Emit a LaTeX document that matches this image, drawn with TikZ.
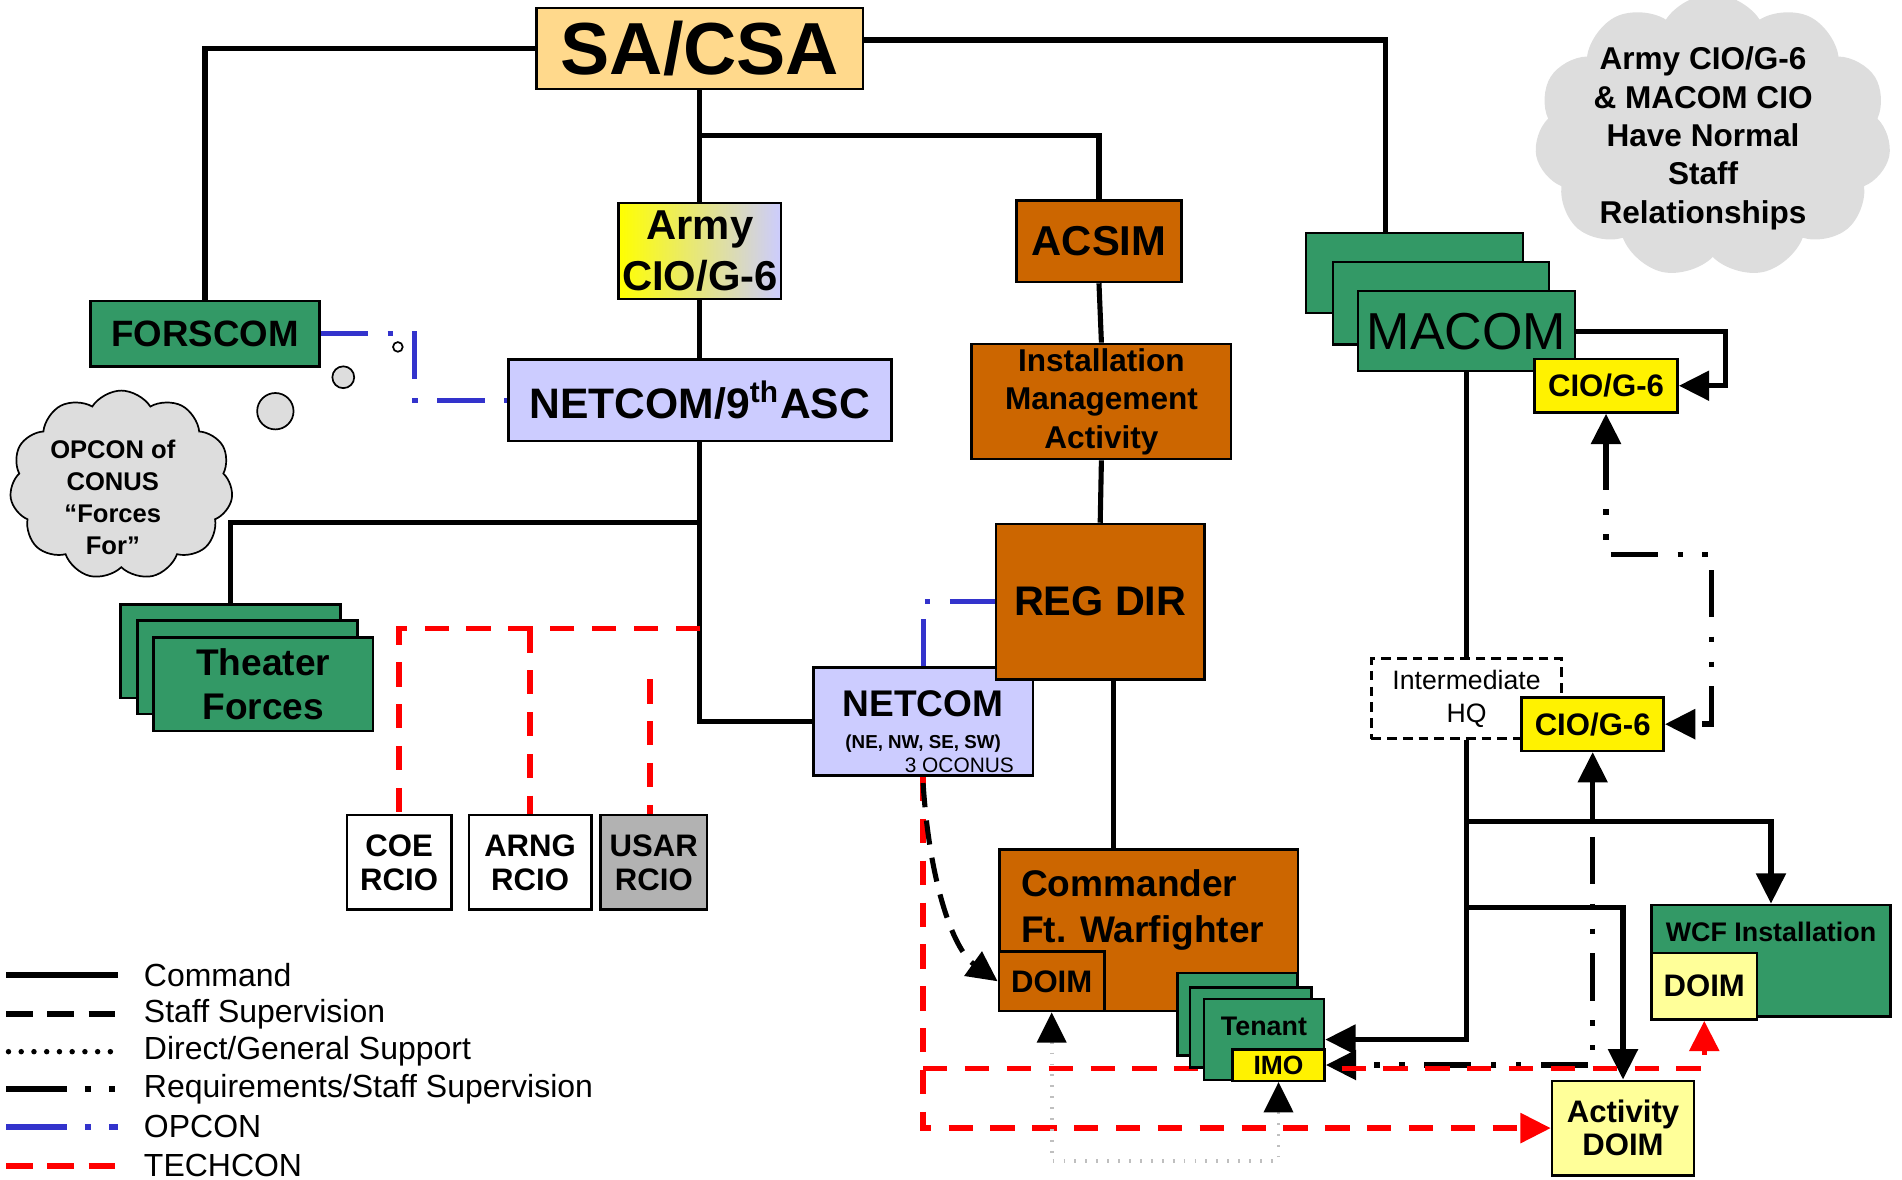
\documentclass[tikz,border=0pt]{standalone}
\usepackage{fontspec}
\setmainfont{Liberation Sans}
\usetikzlibrary{arrows.meta,shapes.symbols,backgrounds}

\definecolor{peach}{RGB}{255,217,140}
\definecolor{armygreen}{RGB}{51,153,102}
\definecolor{rust}{RGB}{204,102,0}
\definecolor{periwinkle}{RGB}{204,204,255}
\definecolor{paleyellow}{RGB}{255,255,153}
\definecolor{cloudgray}{RGB}{221,221,221}
\definecolor{opconblue}{RGB}{51,51,204}
\definecolor{usargray}{RGB}{178,178,178}

\newcommand{\boxfont}[2]{\fontsize{#1}{#2}\selectfont}

\begin{document}
\begin{tikzpicture}[x=0.1mm, y=-0.1mm,
		box/.style={draw, line width=0.6pt, inner sep=0pt, align=center},
		cmd/.style={line width=0.42mm},
		bighead/.style={-{Triangle[length=2.5mm,width=2.4mm]}},
		staffsup/.style={line width=0.42mm, dash pattern=on 2mm off 1.1mm},
		support/.style={line width=0.3mm, black!25, dash pattern=on 0.15mm off 0.75mm},
		reqsup/.style={line width=0.45mm, dash pattern=on 3.9mm off 1.6mm on 0.45mm off 1.6mm on 0.45mm off 1.6mm},
		opcon/.style={line width=0.42mm, opconblue, dash pattern=on 3.9mm off 1.6mm on 0.45mm off 1.6mm},
		techcon/.style={line width=0.45mm, red, dash pattern=on 2mm off 1.45mm}]
		\useasboundingbox (0,0) rectangle (1568,972);
		
		% oberste Ebene
		\node[box, fill=peach, minimum width=26.9mm, minimum height=6.7mm, font=\bfseries\boxfont{17.3}{20}] (sacsa) at (577,40) {SA/CSA};
		\node[box, left color=yellow, right color=periwinkle, minimum width=13.4mm, minimum height=7.9mm, font=\bfseries\boxfont{9.8}{12}] (armycio) at (577,207) {Army\\CIO/G-6};
		\node[box, fill=rust, minimum width=13.6mm, minimum height=6.7mm, font=\bfseries\boxfont{9.8}{11}] (acsim) at (906,199) {ACSIM};
		\node[box, fill=armygreen, minimum width=18.9mm, minimum height=5.4mm, font=\bfseries\boxfont{8.6}{10}] (forscom) at (169,275) {FORSCOM};
		\node[box, fill=periwinkle, minimum width=31.6mm, minimum height=6.7mm, font=\bfseries\boxfont{10}{12}] (netasc) at (577,330) {NETCOM/9\textsuperscript{th}ASC};
		\node[box, fill=rust, minimum width=21.4mm, minimum height=9.5mm, font=\bfseries\boxfont{7.4}{9}] (ima) at (908,331) {Installation\\Management\\Activity};
		
		% Wolken
		\node[cloud, cloud puffs=11, cloud puff arc=115, draw, fill=cloudgray, minimum width=18.4mm, minimum height=15.6mm, inner sep=0pt] (opconcloud) at (100,400) {};
		\node[align=center, inner sep=0pt, font=\bfseries\boxfont{6}{7.5}] (opconlbl) at (93,410) {OPCON of\\CONUS\\“Forces\\For”};
		\node[circle, draw, fill=cloudgray, minimum size=3mm, inner sep=0pt] (bubble1) at (227,339) {};
		\node[circle, draw, fill=cloudgray, minimum size=1.8mm, inner sep=0pt] (bubble2) at (283,311) {};
		\node[circle, draw, fill=white, minimum size=0.8mm, inner sep=0pt] (bubble3) at (328,286) {};
		\node[cloud, cloud puffs=11, cloud puff arc=115, fill=cloudgray, minimum width=29.4mm, minimum height=23.4mm, inner sep=0pt] (staffcloud) at (1412,112) {};
		\node[align=center, inner sep=0pt, font=\bfseries\boxfont{7.4}{9}] (stafflbl) at (1404,114) {Army CIO/G-6\\\& MACOM CIO\\Have Normal\\Staff\\Relationships};
		
		% Theater Forces
		\node[box, fill=armygreen, minimum width=18.1mm, minimum height=7.7mm] (theater3) at (190,537) {};
		\node[box, fill=armygreen, minimum width=18.1mm, minimum height=7.7mm] (theater2) at (204,550) {};
		\node[box, fill=armygreen, minimum width=18.1mm, minimum height=7.7mm, font=\bfseries\boxfont{8.7}{10.2}] (theater) at (217,564) {Theater\\Forces};
		
		% RCIOs
		\node[box, fill=white, minimum width=8.6mm, minimum height=7.8mm, font=\bfseries\boxfont{7.3}{8}] (coe) at (329,711) {COE\\RCIO};
		\node[box, fill=white, minimum width=10.1mm, minimum height=7.8mm, font=\bfseries\boxfont{7.3}{8}] (arng) at (437,711) {ARNG\\RCIO};
		\node[box, fill=usargray, minimum width=8.8mm, minimum height=7.8mm, font=\bfseries\boxfont{7.3}{8}] (usar) at (539,711) {USAR\\RCIO};
		
		% NETCOM und REG DIR
		\node[box, fill=periwinkle, minimum width=18.1mm, minimum height=8.9mm, font=\bfseries\boxfont{8.7}{7.6}] (netcom) at (761,595) {NETCOM\\{\boxfont{4.4}{7.6}(NE, NW, SE, SW)}};
		\node[anchor=south east, inner sep=0pt, font=\boxfont{4.9}{5}] (oconus) at ([xshift=-1.6mm,yshift=0.3mm]netcom.south east) {3 OCONUS};
		\node[box, fill=rust, minimum width=17.2mm, minimum height=12.8mm, font=\bfseries\boxfont{9.7}{11}] (regdir) at (907,496) {REG DIR};
		
		% Installation
		\node[box, fill=rust, minimum width=24.6mm, minimum height=13.3mm] (cmdr) at (947,767) {};
		\node[anchor=north west, inner sep=0pt, align=left, font=\bfseries\boxfont{8.7}{10.8}] (cmdrlbl) at (841,716) {Commander\\Ft. Warfighter};
		\node[box, fill=rust, minimum width=8.7mm, minimum height=4.9mm, font=\bfseries\boxfont{7.3}{8}] (doim) at (867,809) {DOIM};
		\node[box, fill=armygreen, minimum width=9.9mm, minimum height=6.8mm] (tenant3) at (1020,836) {};
		\node[box, fill=armygreen, minimum width=10mm, minimum height=6.6mm] (tenant2) at (1031,847) {};
		\node[box, fill=armygreen, minimum width=9.9mm, minimum height=6.7mm] (tenant) at (1042,857) {};
		\node[inner sep=0pt, font=\bfseries\boxfont{6.3}{7}] (tenantlbl) at ([yshift=-2.4mm]tenant.north) {Tenant};
		\node[box, fill=yellow, minimum width=7.6mm, minimum height=2.6mm, font=\bfseries\boxfont{6.2}{7}] (imo) at (1054,878) {IMO};
		
		% MACOM
		\node[box, fill=armygreen, minimum width=17.9mm, minimum height=6.6mm] (macom3) at (1166,225) {};
		\node[box, fill=armygreen, minimum width=17.8mm, minimum height=6.8mm] (macom2) at (1188,250) {};
		\node[box, fill=armygreen, minimum width=17.9mm, minimum height=6.6mm, font=\boxfont{12.2}{14}] (macom) at (1209,273) {MACOM};
		\node[box, fill=yellow, minimum width=11.8mm, minimum height=4.4mm, font=\bfseries\boxfont{7.3}{8}] (cio1) at (1324,318) {CIO/G-6};
		\node[box, dash pattern=on 0.8mm off 0.5mm, fill=white, minimum width=15.7mm, minimum height=6.6mm, font=\boxfont{6.25}{7.7}] (ihq) at (1209,576) {Intermediate\\HQ};
		\node[box, fill=yellow, minimum width=11.7mm, minimum height=4.4mm, font=\bfseries\boxfont{7.3}{8}] (cio2) at (1313,597) {CIO/G-6};
		\node[box, fill=armygreen, minimum width=19.7mm, minimum height=9.2mm] (wcf) at (1460,792) {};
		\node[inner sep=0pt, font=\bfseries\boxfont{6.3}{7}] (wcflbl) at ([yshift=-2.3mm]wcf.north) {WCF Installation};
		\node[box, fill=paleyellow, minimum width=8.7mm, minimum height=5.5mm, font=\bfseries\boxfont{7.3}{8}] (wcfdoim) at (1405,813) {DOIM};
		\node[box, fill=paleyellow, minimum width=11.7mm, minimum height=7.8mm, font=\bfseries\boxfont{7.3}{7.7}] (actdoim) at (1338,930) {Activity\\DOIM};
		
		% Verbindungen
		\begin{pgfonlayer}{background}
			\coordinate (j1) at (577,112);
			\coordinate (j2) at (577,431);
			\coordinate (j3) at (1209,677);
			\coordinate (j4) at (1209,748);
			\coordinate (o1) at (342,300);
			\coordinate (t0) at (577,518);
			\coordinate (t1) at (761,881);
			\coordinate (d1) at (867,957);
			\coordinate (r1) at (1411,457);
			
			% Command
			\draw[cmd] (sacsa.west) -| (forscom.north);
			\draw[cmd] ([yshift=0.7mm]sacsa.east) -| ([xshift=-2.4mm]macom3.north);
			\draw[cmd] (sacsa.south) -- (armycio.north);
			\draw[cmd] (j1) -| (acsim.north);
			\draw[cmd] (armycio.south) -- (netasc.north);
			\draw[cmd] (netasc.south) -- (j2) -| (theater3.north);
			\draw[cmd] (j2) |- (netcom.west);
			\draw[cmd] (acsim.south) -- (ima.north);
			\draw[cmd] (ima.south) -- (regdir.north);
			\draw[cmd] ([xshift=1.1mm]regdir.south) -- ([xshift=1.1mm]regdir.south |- cmdr.north);
			\draw[cmd, bighead] (macom.east) -- ++(12.3mm,0) |- (cio1.east);
			\draw[cmd] (macom.south) -- (ihq.north);
			\draw[cmd, bighead] (ihq.south) |- (tenant.east);
			\draw[cmd, bighead] (j3) -| (wcf.north);
			\draw[cmd, bighead] (cio2.south |- j3) -- (cio2.south);
			\draw[cmd, bighead] (j4) -| (actdoim.north);
			
			% Requirements/Staff Supervision
			\draw[reqsup, {Triangle[length=2.5mm,width=2.4mm]}-{Triangle[length=2.5mm,width=2.4mm]}] (cio1.south) |- (r1) |- (cio2.east);
			\draw[reqsup, bighead] ([yshift=-1.3mm]cio2.south |- j3) |- (imo.east);
			
			% OPCON
			\draw[opcon] (forscom.east) -| (o1) |- (netasc.west);
			\draw[opcon] (netcom.north) |- (regdir.west);
			
			% TECHCON
			\draw[techcon] (t0) -| (coe.north);
			\draw[techcon] (437,518) -- (arng.north);
			\draw[techcon] ([xshift=-0.3mm]usar.north |- 0,560) -- ([xshift=-0.3mm]usar.north);
			\draw[techcon, bighead] (netcom.south) |- (actdoim.west);
			\draw[techcon, bighead] (t1) -| (wcfdoim.south);
			
			% Staff Supervision
			\draw[staffsup, bighead] ([yshift=-0.5mm]netcom.south) .. controls (766,725) and (785,782) .. (doim.west);
			
			% Direct/General Support
			\draw[support, {Triangle[length=2.5mm,width=2.4mm,color=black,fill=black]}-{Triangle[length=2.5mm,width=2.4mm,color=black,fill=black]}] (doim.south) -- (d1) -| (imo.south);
		\end{pgfonlayer}
		
		% Legende
		\draw[cmd, line width=0.5mm] (5,804) -- (97,804);
		\draw[staffsup, line width=0.5mm, dash pattern=on 2.2mm off 1.2mm] (5,836) -- (97,836);
		\draw[line width=0.45mm, line cap=round, dash pattern=on 0mm off 1.05mm] (7,867) -- (97,867);
		\draw[reqsup, line width=0.5mm, dash pattern=on 5mm off 1.5mm on 0.5mm off 1.5mm on 0.5mm off 2mm] (5,898) -- (97,898);
		\draw[opcon, line width=0.5mm, dash pattern=on 5mm off 1.5mm on 0.5mm off 1.5mm] (5,929) -- (97,929);
		\draw[techcon, line width=0.5mm, dash pattern=on 2.2mm off 1.2mm] (5,961) -- (97,961);
		\node[anchor=west, inner sep=0pt, font=\boxfont{7.5}{9}] (lgcmd) at (118,804) {Command};
		\node[anchor=west, inner sep=0pt, font=\boxfont{7.5}{9}] (lgstaff) at (118,836) {Staff Supervision};
		\node[anchor=west, inner sep=0pt, font=\boxfont{7.5}{9}] (lgdirect) at (118,867) {Direct/General Support};
		\node[anchor=west, inner sep=0pt, font=\boxfont{7.5}{9}] (lgreq) at (118,898) {Requirements/Staff Supervision};
		\node[anchor=west, inner sep=0pt, font=\boxfont{7.5}{9}] (lgopcon) at (118,929) {OPCON};
		\node[anchor=west, inner sep=0pt, font=\boxfont{7.5}{9}] (lgtechcon) at (118,961) {TECHCON};
	\end{tikzpicture}
\end{document}
